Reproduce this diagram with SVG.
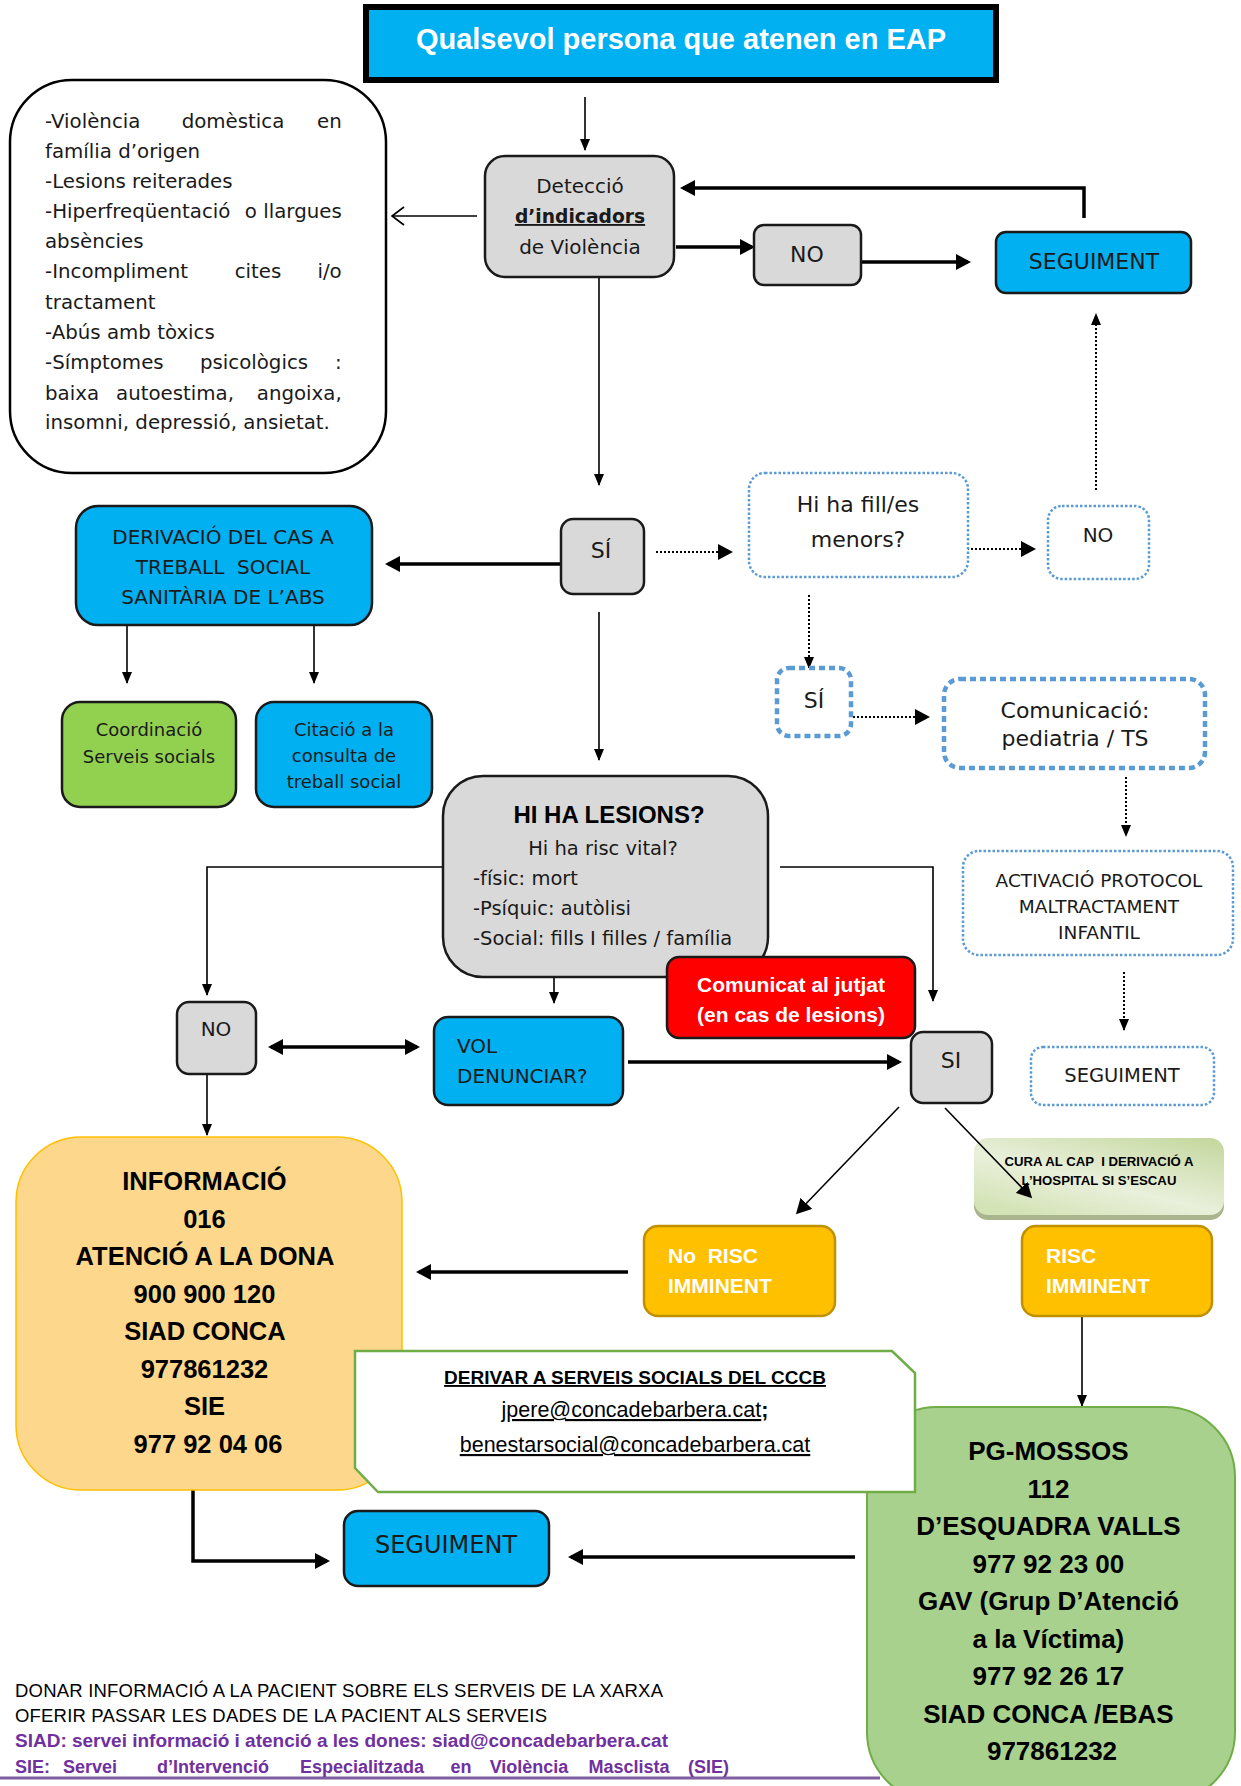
<svg xmlns="http://www.w3.org/2000/svg" width="1241" height="1786" viewBox="0 0 1241 1786">
<style>
.t{font-family:"DejaVu Sans",sans-serif;fill:#1a1a1a}
.b{font-family:"Liberation Sans",Arial,sans-serif;font-weight:bold;fill:#000}
.r{font-family:"Liberation Sans",Arial,sans-serif;fill:#000}
.c{text-anchor:middle}
.e{text-anchor:end}
.w{fill:#fff}
.box{stroke:#1a1a1a;stroke-width:2.5}
.gray{fill:#d9d9d9}
.blue{fill:#00b0f0}
.dot{fill:#fff;stroke:#5b9bd5;stroke-width:2.5;stroke-dasharray:2.5 2}
.dash{fill:#fff;stroke:#5b9bd5;stroke-width:4.5;stroke-dasharray:6 4}
.ln{stroke:#000;stroke-width:1.6;fill:none}
.lnb{stroke:#000;stroke-width:3.5;fill:none}
.ld{stroke:#000;stroke-width:2;stroke-dasharray:2 2;fill:none}
.or{fill:#ffc000;stroke:#bf9000;stroke-width:2.5}
.u{text-decoration:underline}
.pu{font-family:"Liberation Sans",Arial,sans-serif;font-weight:bold;fill:#7030a0}
</style>
<defs>
<marker id="ah" markerUnits="userSpaceOnUse" markerWidth="12" markerHeight="12" refX="11" refY="6" orient="auto"><path d="M0,1 L12,6 L0,11 z" fill="#000"/></marker>
<marker id="ahb" markerUnits="userSpaceOnUse" markerWidth="15" markerHeight="16" refX="12" refY="8" orient="auto-start-reverse"><path d="M0,0 L15,8 L0,16 z" fill="#000"/></marker>
<linearGradient id="gc" x1="1" y1="0" x2="0.2" y2="1">
<stop offset="0" stop-color="#c3d69b"/>
<stop offset="0.6" stop-color="#e9f0db"/>
<stop offset="1" stop-color="#d4e3b6"/>
</linearGradient>
</defs>

<g id="connectors">
<line class="ln" x1="585" y1="97" x2="585" y2="150" marker-end="url(#ah)"/>
<line class="ln" x1="477" y1="216" x2="392" y2="216"/>
<polyline class="ln" points="404,207 392,216 404,225"/>
<polyline class="lnb" points="1084,218 1084,188 683,188" marker-end="url(#ahb)"/>
<line class="lnb" x1="676" y1="247" x2="752" y2="247" marker-end="url(#ahb)"/>
<line class="lnb" x1="861" y1="262" x2="968" y2="262" marker-end="url(#ahb)"/>
<line class="ld" x1="1096" y1="490" x2="1096" y2="314" marker-end="url(#ah)"/>
<line class="ln" x1="599" y1="262" x2="599" y2="485" marker-end="url(#ah)"/>
<line class="lnb" x1="561" y1="564" x2="388" y2="564" marker-end="url(#ahb)"/>
<line class="ld" x1="656" y1="552" x2="730" y2="552" marker-end="url(#ahb)"/>
<line class="ld" x1="967" y1="549" x2="1033" y2="549" marker-end="url(#ahb)"/>
<line class="ln" x1="127" y1="625" x2="127" y2="683" marker-end="url(#ah)"/>
<line class="ln" x1="314" y1="625" x2="314" y2="683" marker-end="url(#ah)"/>
<line class="ln" x1="599" y1="612" x2="599" y2="760" marker-end="url(#ah)"/>
<line class="ld" x1="809" y1="595" x2="809" y2="668" marker-end="url(#ah)"/>
<line class="ld" x1="837" y1="717" x2="927" y2="717" marker-end="url(#ahb)"/>
<line class="ld" x1="1126" y1="777" x2="1126" y2="836" marker-end="url(#ah)"/>
<polyline class="ln" points="444,867 207,867 207,995" marker-end="url(#ah)"/>
<polyline class="ln" points="780,867 933,867 933,1001" marker-end="url(#ah)"/>
<line class="ln" x1="554" y1="957" x2="554" y2="1003" marker-end="url(#ah)"/>
<line class="lnb" x1="271" y1="1047" x2="417" y2="1047" marker-start="url(#ahb)" marker-end="url(#ahb)"/>
<line class="lnb" x1="628" y1="1062" x2="899" y2="1062" marker-end="url(#ahb)"/>
<line class="ld" x1="1124" y1="972" x2="1124" y2="1030" marker-end="url(#ah)"/>
<line class="ln" x1="899" y1="1107" x2="798" y2="1212" marker-end="url(#ahb)"/>
<line class="lnb" x1="628" y1="1272" x2="419" y2="1272" marker-end="url(#ahb)"/>
<line class="ln" x1="1082" y1="1317" x2="1082" y2="1406" marker-end="url(#ah)"/>
<line class="ln" x1="207" y1="1075" x2="207" y2="1135" marker-end="url(#ah)"/>
<line class="lnb" x1="855" y1="1557" x2="571" y2="1557" marker-end="url(#ahb)"/>
<polyline class="lnb" points="193,1490 193,1561 327,1561" marker-end="url(#ahb)"/>
<line x1="0" y1="1778" x2="880" y2="1778" stroke="#7f5fa0" stroke-width="3"/>
</g>

<g id="title">
<rect x="366" y="7" width="630" height="73" class="blue" stroke="#000" stroke-width="6"/>
<text x="681" y="49" class="b c w" font-size="29">Qualsevol persona que atenen en EAP</text>
</g>

<g id="indicadors">
<rect x="10" y="80" width="376" height="393" rx="62" fill="#fff" stroke="#000" stroke-width="2.5"/>
<text class="t" font-size="19.8">
<tspan x="45" y="128">-Violència</tspan><tspan x="233" y="128" text-anchor="middle">domèstica</tspan><tspan x="348" y="128" text-anchor="end">en</tspan>
<tspan x="45" y="158">família d’origen</tspan>
<tspan x="45" y="188">-Lesions reiterades</tspan>
<tspan x="45" y="218">-Hiperfreqüentació</tspan><tspan x="348" y="218" text-anchor="end">o llargues</tspan>
<tspan x="45" y="248">absències</tspan>
<tspan x="45" y="278">-Incompliment</tspan><tspan x="258" y="278" text-anchor="middle">cites</tspan><tspan x="348" y="278" text-anchor="end">i/o</tspan>
<tspan x="45" y="309">tractament</tspan>
<tspan x="45" y="339">-Abús amb tòxics</tspan>
<tspan x="45" y="369">-Símptomes</tspan><tspan x="254" y="369" text-anchor="middle">psicològics</tspan><tspan x="348" y="369" text-anchor="end">:</tspan>
<tspan x="45" y="400">baixa</tspan><tspan x="175" y="400" text-anchor="middle">autoestima,</tspan><tspan x="348" y="400" text-anchor="end">angoixa,</tspan>
<tspan x="45" y="429">insomni, depressió, ansietat.</tspan>
</text>
</g>

<g id="deteccio">
<rect x="485" y="156" width="189" height="121" rx="20" class="gray box"/>
<text x="580" y="193" class="t c" font-size="20">Detecció</text>
<text x="580" y="223" class="t c u" font-size="18.7" font-weight="bold">d’indicadors</text>
<text x="580" y="254" class="t c" font-size="20">de Violència</text>
</g>

<g id="no1">
<rect x="754" y="225" width="107" height="60" rx="10" class="gray box"/>
<text x="807" y="262" class="t c" font-size="22">NO</text>
</g>

<g id="seguiment1">
<rect x="996" y="232" width="195" height="61" rx="10" class="blue box"/>
<text x="1094" y="269" class="t c" font-size="22">SEGUIMENT</text>
</g>

<g id="si1">
<rect x="561" y="519" width="83" height="75" rx="12" class="gray box"/>
<text x="601" y="558" class="t c" font-size="22">SÍ</text>
</g>

<g id="derivacio">
<rect x="76" y="506" width="296" height="119" rx="22" class="blue box"/>
<text x="223" y="544" class="t c" font-size="20">DERIVACIÓ DEL CAS A</text>
<text x="223" y="574" class="t c" font-size="20" xml:space="preserve">TREBALL  SOCIAL</text>
<text x="223" y="604" class="t c" font-size="20">SANITÀRIA DE L’ABS</text>
</g>

<g id="fills">
<rect x="749" y="473" width="219" height="104" rx="16" class="dot"/>
<text x="858" y="512" class="t c" font-size="22">Hi ha fill/es</text>
<text x="858" y="547" class="t c" font-size="22">menors?</text>
</g>

<g id="no2">
<rect x="1048" y="506" width="101" height="73" rx="14" class="dot"/>
<text x="1098" y="542" class="t c" font-size="20">NO</text>
</g>

<g id="coordinacio">
<rect x="62" y="702" width="174" height="105" rx="18" fill="#92d050" class="box"/>
<text x="149" y="736" class="t c" font-size="18">Coordinació</text>
<text x="149" y="763" class="t c" font-size="18">Serveis socials</text>
</g>

<g id="citacio">
<rect x="256" y="702" width="176" height="105" rx="18" class="blue box"/>
<text x="344" y="736" class="t c" font-size="18">Citació a la</text>
<text x="344" y="762" class="t c" font-size="18">consulta de</text>
<text x="344" y="788" class="t c" font-size="18">treball social</text>
</g>

<g id="si2">
<rect x="777" y="668" width="74" height="68" rx="12" class="dash"/>
<text x="814" y="708" class="t c" font-size="22">SÍ</text>
</g>

<g id="comunicacio">
<rect x="944" y="679" width="261" height="89" rx="16" class="dash"/>
<text x="1075" y="718" class="t c" font-size="22">Comunicació:</text>
<text x="1075" y="746" class="t c" font-size="22">pediatria / TS</text>
</g>

<g id="activacio">
<rect x="963" y="851" width="270" height="104" rx="16" class="dot"/>
<text x="1099" y="887" class="t c" font-size="18.5">ACTIVACIÓ PROTOCOL</text>
<text x="1099" y="913" class="t c" font-size="18.5">MALTRACTAMENT</text>
<text x="1099" y="939" class="t c" font-size="18.5">INFANTIL</text>
</g>

<g id="lesions">
<rect x="443" y="776" width="325" height="201" rx="40" class="gray box"/>
<text x="609" y="823" class="b c" font-size="24">HI HA LESIONS?</text>
<text x="603" y="855" class="t c" font-size="19.5">Hi ha risc vital?</text>
<text class="t" font-size="19.5">
<tspan x="473" y="885">-físic: mort</tspan>
<tspan x="473" y="915">-Psíquic: autòlisi</tspan>
<tspan x="473" y="945">-Social: fills I filles / família</tspan>
</text>
</g>

<g id="jutjat">
<rect x="667" y="957" width="248" height="81" rx="12" fill="#ff0000" class="box"/>
<text x="791" y="992" class="b c w" font-size="21">Comunicat al jutjat</text>
<text x="791" y="1022" class="b c w" font-size="21">(en cas de lesions)</text>
</g>

<g id="no3">
<rect x="177" y="1002" width="79" height="72" rx="12" class="gray box"/>
<text x="216" y="1036" class="t c" font-size="20">NO</text>
</g>

<g id="denunciar">
<rect x="434" y="1017" width="189" height="88" rx="14" class="blue box"/>
<text x="457" y="1053" class="t" font-size="20">VOL</text>
<text x="457" y="1083" class="t" font-size="20">DENUNCIAR?</text>
</g>

<g id="si3">
<rect x="911" y="1032" width="81" height="71" rx="12" class="gray box"/>
<text x="951" y="1068" class="t c" font-size="22">SI</text>
</g>

<g id="seguiment2">
<rect x="1031" y="1047" width="183" height="58" rx="12" class="dot"/>
<text x="1122" y="1082" class="t c" font-size="19.5">SEGUIMENT</text>
</g>

<g id="cura">
<rect x="974" y="1143" width="250" height="77" rx="14" fill="#a9b58c"/>
<rect x="974" y="1138" width="250" height="77" rx="14" fill="url(#gc)"/>
<text x="1099" y="1166" class="b c" font-size="13.2" xml:space="preserve">CURA AL CAP  I DERIVACIÓ A</text>
<text x="1099" y="1185" class="b c" font-size="13.2">L’HOSPITAL SI S’ESCAU</text>
</g>
<line class="ln" x1="945" y1="1108" x2="1030" y2="1196" marker-end="url(#ahb)"/>

<g id="norisc">
<rect x="644" y="1226" width="191" height="90" rx="14" class="or"/>
<text x="668" y="1263" class="b w" font-size="21" xml:space="preserve">No  RISC</text>
<text x="668" y="1293" class="b w" font-size="21">IMMINENT</text>
</g>

<g id="risc">
<rect x="1022" y="1226" width="190" height="90" rx="14" class="or"/>
<text x="1046" y="1263" class="b w" font-size="21">RISC</text>
<text x="1046" y="1293" class="b w" font-size="21">IMMINENT</text>
</g>

<g id="informacio">
<rect x="16" y="1137" width="386" height="353" rx="65" fill="#fdd88c" stroke="#ffc000" stroke-width="1.5"/>
<text class="b c" font-size="25.5">
<tspan x="208" y="1190">INFORMACIÓ</tspan>
<tspan x="208" y="1227.5">016</tspan>
<tspan x="208" y="1265">ATENCIÓ A LA DONA</tspan>
<tspan x="208" y="1302.5">900 900 120</tspan>
<tspan x="208" y="1340">SIAD CONCA</tspan>
<tspan x="208" y="1377.5">977861232</tspan>
<tspan x="208" y="1415">SIE</tspan>
<tspan x="208" y="1452.5">977 92 04 06</tspan>
</text>
</g>

<g id="mossos">
<rect x="867" y="1407" width="368" height="395" rx="70" fill="#a9d18e" stroke="#70ad47" stroke-width="2"/>
<text class="b c" font-size="26">
<tspan x="1052" y="1460">PG-MOSSOS</tspan>
<tspan x="1052" y="1497.5">112</tspan>
<tspan x="1052" y="1535">D’ESQUADRA VALLS</tspan>
<tspan x="1052" y="1572.5">977 92 23 00</tspan>
<tspan x="1052" y="1610">GAV (Grup D’Atenció</tspan>
<tspan x="1052" y="1647.5">a la Víctima)</tspan>
<tspan x="1052" y="1685">977 92 26 17</tspan>
<tspan x="1052" y="1722.5">SIAD CONCA /EBAS</tspan>
<tspan x="1052" y="1760">977861232</tspan>
</text>
</g>

<g id="derivar">
<polygon points="355,1351 892,1351 915,1373 915,1492 378,1492 355,1468" fill="#fff" stroke="#70ad47" stroke-width="2.5"/>
<text x="635" y="1384" class="b c u" font-size="19">DERIVAR A SERVEIS SOCIALS DEL CCCB</text>
<text x="635" y="1417" class="r c" font-size="21.5"><tspan class="u">jpere@concadebarbera.cat</tspan><tspan font-weight="bold">;</tspan></text>
<text x="635" y="1452" class="r c u" font-size="21.5">benestarsocial@concadebarbera.cat</text>
</g>

<g id="seguiment3">
<rect x="344" y="1511" width="205" height="75" rx="14" class="blue box"/>
<text x="446" y="1553" class="t c" font-size="24">SEGUIMENT</text>
</g>

<g id="footer">
<text x="15" y="1697" class="r" font-size="18.5" textLength="648" lengthAdjust="spacing">DONAR INFORMACIÓ A LA PACIENT SOBRE ELS SERVEIS DE LA XARXA</text>
<text x="15" y="1722" class="r" font-size="18.5" textLength="532" lengthAdjust="spacing">OFERIR PASSAR LES DADES DE LA PACIENT ALS SERVEIS</text>
<text x="15" y="1747" class="pu" font-size="18" textLength="653" lengthAdjust="spacingAndGlyphs">SIAD: servei informació i atenció a les dones: siad@concadebarbera.cat</text>
<text class="pu" font-size="18"><tspan x="15" y="1773">SIE:</tspan><tspan x="90" y="1773" text-anchor="middle">Servei</tspan><tspan x="213" y="1773" text-anchor="middle">d’Intervenció</tspan><tspan x="362" y="1773" text-anchor="middle">Especialitzada</tspan><tspan x="461" y="1773" text-anchor="middle">en</tspan><tspan x="529" y="1773" text-anchor="middle">Violència</tspan><tspan x="629" y="1773" text-anchor="middle">Masclista</tspan><tspan x="729" y="1773" text-anchor="end">(SIE)</tspan></text>
</g>
</svg>
